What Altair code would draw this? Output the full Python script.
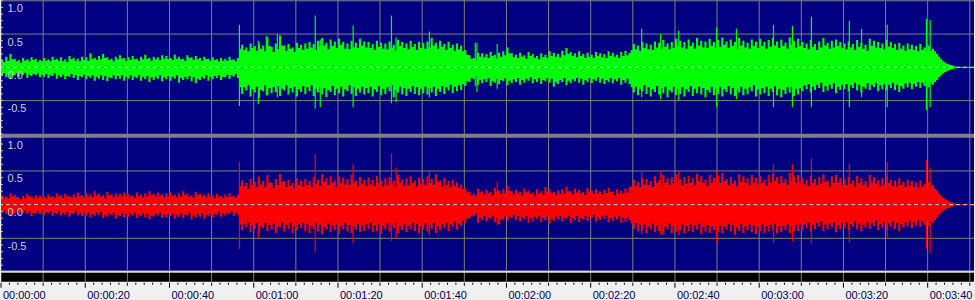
import altair as alt
import pandas as pd

# ---------------- data: peak envelope, hundredths of full scale ----------------
# *_A : value for the first half of each second (t = 0 .. 230 s)
# *_B : value for the second half of each second (t + 0.5)
G_HI_A = [12, 16, 20, 13, 11, 14, 12, 15, 13, 11,
          14, 12, 16, 13, 15, 12, 17, 14, 13, 16,
          15, 21, 14, 17, 20, 15, 13, 16, 18, 14,
          15, 17, 13, 16, 19, 14, 16, 15, 18, 17,
          14, 19, 16, 13, 18, 15, 17, 14, 16, 13,
          15, 12, 14, 13, 16, 12, 14,
          34, 30, 36, 32, 35, 33, 45, 31, 36, 48, 33, 35, 30, 37, 34,
          36, 38, 35, 40, 44, 37, 42, 39, 43, 38, 36, 40, 37, 43, 39,
          38, 35, 40, 37, 36, 39, 34, 41, 38, 36, 40, 35, 38, 37,
          39, 44, 37, 40, 35, 38, 34, 36, 33, 26, 18, 14,
          22, 21, 20, 23, 19, 22, 24, 30, 21, 19, 22, 18, 23, 20, 17, 21, 19, 24, 22, 20,
          25, 29, 23, 21, 24, 20, 22, 19, 23, 21, 20, 24, 22, 19, 23, 25, 22,
          35, 33, 38, 36, 34, 39, 37, 41, 36, 38, 43, 40, 38, 42, 37, 44, 40, 39, 43, 38,
          41, 45, 39, 42, 38, 44, 40, 37, 42, 39, 43, 38, 41, 44, 39, 42, 37, 45, 40, 43,
          38, 36, 41, 35, 39, 44, 37, 40, 42, 38, 36, 39, 35, 41, 37, 34, 43, 40, 38, 36,
          41, 38, 35, 37, 33, 36, 34, 32, 35, 30, 33,
          28, 20, 12, 7, 4, 2,
          1, 1, 1, 1]
G_HI_B = [8, 10, 12, 9, 7, 10, 9, 11, 8, 9,
          10, 9, 11, 10, 9, 8, 12, 10, 9, 11,
          10, 13, 11, 12, 14, 11, 9, 12, 13, 10,
          11, 12, 10, 12, 13, 10, 12, 11, 13, 12,
          11, 13, 12, 10, 14, 11, 12, 10, 12, 10,
          11, 9, 10, 10, 11, 9, 28,
          26, 24, 29, 25, 28, 24, 32, 23, 27, 33, 25, 28, 23, 29, 26,
          28, 30, 26, 31, 33, 27, 32, 29, 34, 28, 27, 30, 29, 33, 30,
          29, 26, 31, 28, 27, 30, 25, 32, 29, 27, 31, 26, 29, 28,
          30, 33, 28, 31, 26, 29, 25, 27, 24, 19, 13, 11,
          16, 15, 14, 17, 13, 16, 18, 21, 15, 14, 16, 13, 17, 14, 12, 15, 14, 17, 16, 15,
          18, 20, 17, 15, 17, 14, 16, 14, 17, 15, 14, 17, 16, 14, 17, 18, 26,
          27, 25, 29, 27, 26, 30, 28, 31, 27, 29, 32, 30, 28, 32, 28, 33, 30, 29, 32, 29,
          31, 34, 29, 32, 28, 33, 30, 28, 32, 29, 32, 28, 31, 33, 29, 32, 28, 34, 30, 32,
          29, 27, 31, 26, 30, 33, 28, 30, 32, 29, 27, 30, 26, 31, 28, 25, 32, 30, 29, 27,
          31, 29, 26, 28, 25, 27, 26, 24, 26, 23, 25,
          24, 16, 9, 5, 3, 1,
          1, 1, 1, 1]
G_LO_A = [-13, -15, -17, -12, -14, -11, -16, -13, -12, -15,
          -14, -16, -13, -17, -15, -18, -14, -16, -19, -15,
          -18, -16, -20, -17, -19, -21, -16, -18, -17, -20,
          -17, -19, -16, -20, -18, -22, -19, -17, -21, -18,
          -20, -17, -23, -19, -18, -21, -24, -19, -17, -20,
          -18, -16, -19, -15, -17, -14, -16,
          -40, -35, -44, -38, -46, -36, -42, -39, -37, -43, -35, -41, -38, -44, -37,
          -40, -36, -43, -38, -41, -45, -37, -42, -39, -44, -36, -40, -43, -38, -41,
          -39, -44, -37, -42, -40, -36, -45, -38, -41, -43, -37, -40, -42, -39,
          -41, -38, -43, -37, -40, -35, -39, -36, -34, -28, -22, -18,
          -26, -24, -22, -28, -23, -25, -21, -27, -24, -22, -26, -23, -20, -24, -22, -25, -21, -23, -29, -25,
          -22, -27, -24, -21, -23, -26, -22, -24, -20, -23, -25, -22, -24, -21, -26, -23, -25,
          -38, -42, -36, -40, -44, -37, -41, -39, -45, -38, -42, -40, -44, -37, -43, -39, -41, -45, -38, -42,
          -40, -44, -37, -41, -43, -38, -42, -40, -36, -44, -41, -39, -43, -37, -42, -45, -40, -38, -43, -41,
          -36, -33, -38, -34, -31, -37, -35, -32, -39, -34, -33, -36, -31, -35, -38, -32, -34, -30, -36, -33,
          -35, -31, -34, -37, -32, -30, -33, -29, -31, -28, -30,
          -26, -19, -12, -7, -4, -2,
          -1, -1, -1, -1]
G_LO_B = [-9, -11, -12, -9, -10, -8, -11, -10, -9, -11,
          -10, -12, -9, -12, -11, -13, -10, -12, -13, -11,
          -13, -12, -14, -12, -13, -15, -12, -13, -12, -14,
          -12, -14, -12, -14, -13, -15, -14, -12, -15, -13,
          -14, -12, -16, -14, -13, -15, -17, -14, -12, -14,
          -13, -12, -14, -11, -12, -10, -30,
          -30, -27, -33, -29, -34, -27, -31, -29, -28, -32, -27, -31, -29, -33, -28,
          -30, -27, -32, -29, -31, -34, -28, -32, -29, -33, -27, -30, -32, -29, -31,
          -29, -33, -28, -32, -30, -27, -34, -29, -31, -32, -28, -30, -32, -29,
          -31, -29, -32, -28, -30, -26, -29, -27, -25, -21, -16, -13,
          -19, -18, -16, -21, -17, -19, -16, -20, -18, -16, -19, -17, -15, -18, -16, -19, -16, -17, -22, -19,
          -16, -20, -18, -16, -17, -19, -16, -18, -15, -17, -19, -16, -18, -16, -19, -17, -30,
          -29, -32, -27, -30, -33, -28, -31, -29, -34, -29, -32, -30, -33, -28, -32, -29, -31, -34, -29, -32,
          -30, -33, -28, -31, -32, -29, -32, -30, -27, -33, -31, -29, -32, -28, -32, -34, -30, -29, -32, -31,
          -27, -25, -29, -26, -23, -28, -26, -24, -29, -26, -25, -27, -23, -26, -29, -24, -26, -23, -27, -25,
          -26, -23, -26, -28, -24, -23, -25, -22, -23, -21, -23,
          -22, -15, -9, -5, -3, -1,
          -1, -1, -1, -1]
R_HI_A = [14, 12, 17, 15, 11, 13, 16, 12, 14, 13,
          12, 15, 13, 17, 14, 16, 13, 15, 18, 14,
          17, 15, 20, 16, 14, 19, 15, 17, 16, 18,
          16, 14, 18, 15, 17, 20, 16, 18, 15, 17,
          18, 15, 17, 20, 16, 14, 19, 16, 15, 17,
          14, 16, 13, 15, 17, 13, 15,
          36, 32, 38, 34, 40, 35, 44, 33, 38, 46, 35, 37, 32, 39, 36,
          38, 35, 41, 37, 45, 39, 43, 36, 42, 40, 38, 44, 36, 41, 37,
          40, 37, 43, 36, 39, 41, 35, 44, 37, 39, 42, 36, 40, 38,
          42, 38, 45, 36, 39, 35, 37, 33, 30, 24, 19, 16,
          24, 20, 22, 19, 25, 21, 23, 28, 20, 22, 19, 24, 21, 18, 23, 20, 26, 22, 19, 21,
          23, 27, 20, 24, 22, 19, 25, 21, 23, 20, 22, 25, 19, 23, 21, 24, 26,
          37, 34, 40, 38, 35, 42, 36, 44, 39, 41, 45, 38, 41, 43, 39, 46, 42, 37, 44, 40,
          43, 47, 38, 41, 36, 45, 42, 39, 44, 40, 42, 37, 44, 46, 41, 43, 38, 47, 42, 44,
          40, 37, 43, 38, 41, 45, 36, 42, 44, 39, 38, 41, 36, 43, 39, 35, 44, 41, 37, 39,
          42, 37, 36, 39, 34, 37, 35, 33, 36, 31, 34,
          29, 21, 13, 8, 4, 2,
          1, 1, 1, 1]
R_HI_B = [10, 9, 12, 11, 8, 10, 12, 9, 10, 10,
          9, 11, 10, 12, 10, 12, 10, 11, 13, 10,
          12, 11, 14, 12, 10, 14, 11, 12, 12, 13,
          12, 10, 13, 11, 12, 14, 12, 13, 11, 12,
          13, 11, 12, 14, 12, 10, 14, 12, 11, 12,
          10, 12, 10, 11, 12, 10, 28,
          27, 24, 29, 26, 30, 26, 33, 25, 29, 34, 26, 28, 24, 29, 27,
          29, 26, 31, 28, 34, 29, 32, 27, 32, 30, 29, 33, 27, 31, 28,
          30, 28, 32, 27, 29, 31, 26, 33, 28, 29, 32, 27, 30, 29,
          32, 29, 34, 27, 29, 26, 28, 25, 23, 18, 14, 12,
          18, 15, 17, 14, 19, 16, 17, 21, 15, 17, 14, 18, 16, 13, 17, 15, 20, 17, 14, 16,
          17, 20, 15, 18, 17, 14, 19, 16, 17, 15, 17, 19, 14, 17, 16, 18, 27,
          28, 26, 30, 29, 26, 32, 27, 33, 29, 31, 34, 29, 31, 32, 29, 35, 32, 28, 33, 30,
          32, 35, 29, 31, 27, 34, 32, 29, 33, 30, 32, 28, 33, 35, 31, 32, 29, 35, 32, 33,
          30, 28, 32, 29, 31, 34, 27, 32, 33, 29, 29, 31, 27, 32, 29, 26, 33, 31, 28, 29,
          32, 28, 27, 29, 26, 28, 26, 25, 27, 23, 26,
          24, 16, 10, 6, 3, 1,
          1, 1, 1, 1]
R_LO_A = [-12, -14, -16, -13, -15, -12, -14, -17, -13, -14,
          -15, -13, -17, -14, -16, -15, -18, -13, -16, -17,
          -16, -19, -17, -15, -20, -18, -16, -21, -17, -19,
          -18, -16, -20, -17, -19, -22, -18, -16, -20, -19,
          -17, -21, -18, -20, -16, -22, -19, -18, -21, -17,
          -19, -15, -18, -16, -14, -17, -15,
          -38, -34, -41, -36, -43, -35, -39, -37, -42, -34, -40, -36, -43, -38, -35,
          -39, -42, -36, -40, -44, -37, -41, -38, -43, -36, -40, -42, -37, -41, -39,
          -36, -41, -39, -43, -37, -40, -35, -42, -38, -41, -36, -39, -43, -37,
          -40, -36, -42, -38, -35, -39, -33, -37, -32, -27, -21, -17,
          -27, -23, -25, -21, -26, -29, -22, -24, -20, -23, -25, -22, -27, -24, -21, -26, -23, -28, -24, -22,
          -25, -21, -27, -23, -26, -22, -24, -20, -25, -23, -21, -26, -24, -22, -27, -25, -23,
          -36, -40, -38, -43, -37, -41, -39, -44, -37, -42, -40, -38, -43, -39, -41, -37, -44, -40, -42, -38,
          -41, -43, -37, -40, -45, -39, -42, -38, -41, -44, -39, -42, -40, -37, -43, -41, -38, -42, -40, -39,
          -38, -35, -40, -36, -33, -39, -37, -34, -41, -36, -35, -38, -33, -37, -40, -34, -36, -32, -38, -35,
          -37, -33, -36, -39, -34, -32, -35, -31, -33, -30, -32,
          -27, -20, -12, -7, -4, -2,
          -1, -1, -1, -1]
R_LO_B = [-9, -10, -12, -10, -11, -9, -10, -12, -10, -10,
          -11, -10, -12, -10, -12, -11, -13, -10, -12, -12,
          -12, -14, -12, -11, -15, -13, -12, -15, -13, -14,
          -13, -12, -15, -13, -14, -16, -13, -12, -15, -14,
          -13, -15, -13, -15, -12, -16, -14, -13, -15, -13,
          -14, -11, -13, -12, -10, -12, -29,
          -29, -26, -31, -27, -32, -27, -30, -28, -32, -26, -30, -27, -32, -29, -27,
          -29, -32, -27, -30, -33, -28, -31, -29, -32, -27, -30, -32, -28, -31, -29,
          -27, -31, -29, -32, -28, -30, -27, -32, -29, -31, -27, -29, -32, -28,
          -30, -27, -32, -29, -27, -29, -25, -28, -24, -20, -16, -13,
          -20, -17, -19, -16, -20, -22, -17, -18, -15, -17, -19, -17, -20, -18, -16, -20, -17, -21, -18, -17,
          -19, -16, -20, -17, -20, -17, -18, -15, -19, -17, -16, -20, -18, -17, -20, -19, -28,
          -27, -30, -29, -32, -28, -31, -29, -33, -28, -32, -30, -29, -32, -29, -31, -28, -33, -30, -32, -29,
          -31, -32, -28, -30, -34, -29, -32, -29, -31, -33, -29, -32, -30, -28, -32, -31, -29, -32, -30, -29,
          -29, -26, -30, -27, -25, -29, -28, -26, -31, -27, -26, -29, -25, -28, -30, -26, -27, -24, -29, -26,
          -28, -25, -27, -29, -26, -24, -26, -23, -25, -23, -24,
          -23, -15, -9, -5, -3, -1,
          -1, -1, -1, -1]

# isolated transient peaks (time in s, value in full scale)
G_SPIKE_T = [56.6, 61.1, 63.0, 65.6, 74.6, 75.8, 83.6, 92.7, 93.8, 101.7, 112.6, 113.0, 117.8,
             152.1, 156.6, 160.9, 169.9, 174.6, 183.4, 187.9, 192.4, 201.4, 204.3, 210.4, 219.7, 220.6]
G_SPIKE_HI = [0.64, 0.40, 0.47, 0.50, 0.78, 0.42, 0.63, 0.78, 0.45, 0.54, 0.37, 0.37, 0.35,
              0.58, 0.50, 0.55, 0.60, 0.58, 0.64, 0.62, 0.76, 0.70, 0.58, 0.64, 0.73, 0.71]
G_SPIKE_LO = [-0.58, -0.55, -0.42, -0.45, -0.62, -0.60, -0.60, -0.54, -0.52, -0.45, -0.28, -0.37, -0.32,
              -0.45, -0.48, -0.50, -0.60, -0.48, -0.60, -0.60, -0.60, -0.60, -0.45, -0.60, -0.64, -0.60]
R_SPIKE_T = [56.6, 61.1, 74.6, 83.6, 92.7, 93.8, 101.7, 117.8, 152.1, 156.6, 160.9, 169.9,
             183.4, 187.9, 192.4, 201.4, 210.4, 219.7, 220.6]
R_SPIKE_HI = [0.64, 0.42, 0.75, 0.60, 0.76, 0.55, 0.50, 0.34, 0.48, 0.48, 0.50, 0.50,
              0.60, 0.60, 0.69, 0.61, 0.63, 0.66, 0.55]
R_SPIKE_LO = [-0.66, -0.50, -0.70, -0.57, -0.54, -0.50, -0.45, -0.30, -0.44, -0.45, -0.46, -0.57,
              -0.57, -0.54, -0.58, -0.56, -0.50, -0.66, -0.72]

# axis ticks / labels
Y_LABELS = [1.0, 0.5, 0.0, -0.5]
Y_GRID = [1.0, 0.5, -0.5]
Y_MINOR = [1.0, 0.9, 0.8, 0.7, 0.6, 0.5, 0.4, 0.3, 0.2, 0.1, 0.0,
           -0.1, -0.2, -0.3, -0.4, -0.5, -0.6, -0.7, -0.8, -0.9, -1.0]
X_GRID = list(range(0, 240, 10))
X_MAJOR = list(range(0, 240, 20))
X_MID = list(range(10, 240, 20))
X_MINOR = [t for t in range(0, 232, 2) if t % 10 != 0]

# ---------------- styling ----------------
NAVY = "#000080"
GRID = "#808080"
FONT = "Liberation Sans"
W = 975
X_DOMAIN = [0, 231]
xs = alt.Scale(domain=X_DOMAIN, nice=False, zero=False)

Y_AXIS = alt.Axis(
    values=Y_LABELS,
    labelExpr="datum.value < 0 ? '-' + format(-datum.value, '.1f') : format(datum.value, '.1f')",
    ticks=False, tickSize=0, domain=False, grid=False, zindex=1,
    labelAlign="left", labelBaseline="top", labelPadding=-6, labelOffset=2,
    labelColor="#d0d0d0", labelFont=FONT, labelFontSize=11, title=None)

X_AXIS = alt.Axis(
    values=X_MAJOR, ticks=False, tickSize=0, domain=False, grid=False,
    labelAlign="left", labelBaseline="top", labelPadding=1.5, labelOffset=1.5,
    labelFlush=False, labelOverlap=False, labelColor="#000058", labelFont=FONT,
    labelFontSize=11, title=None,
    labelExpr="'00:' + (datum.value < 600 ? '0' : '') + floor(datum.value / 60) + ':' + "
              "(datum.value % 60 < 10 ? '0' : '') + (datum.value % 60)")


def env_df(a, b):
    ts, vs = [], []
    for i, v in enumerate(a):
        ts.append(i)
        vs.append(v / 100)
        if i < len(b):
            ts.append(i + 0.5)
            vs.append(b[i] / 100)
    ts.append(len(a))
    vs.append(vs[-1])
    return pd.DataFrame({"t": ts, "v": vs})


def channel(hi_a, hi_b, lo_a, lo_b, sp_t, sp_hi, sp_lo, color, height, ydom, band=False):
    ys = alt.Scale(domain=ydom, nice=False, zero=False)
    X = lambda f: alt.X(f, scale=xs, axis=None)
    Y = lambda f: alt.Y(f, scale=ys, axis=Y_AXIS)
    vgrid = alt.Chart(pd.DataFrame({"t": X_GRID})).mark_rule(
        color=GRID, strokeWidth=1, clip=True).encode(x=X("t:Q"))
    hgrid = alt.Chart(pd.DataFrame({"v": Y_GRID})).mark_rule(
        color=GRID, strokeWidth=1, clip=True).encode(y=Y("v:Q"))
    up = alt.Chart(env_df(hi_a, hi_b)).mark_area(
        color=color, interpolate="step-after", clip=True, opacity=1).encode(
        x=X("t:Q"), y=Y("v:Q"), y2=alt.datum(0))
    dn = alt.Chart(env_df(lo_a, lo_b)).mark_area(
        color=color, interpolate="step-after", clip=True, opacity=1).encode(
        x=X("t:Q"), y=Y("v:Q"), y2=alt.datum(0))
    spikes = alt.Chart(pd.DataFrame({"t": sp_t, "hi": sp_hi, "lo": sp_lo})).mark_rule(
        color=color, strokeWidth=1.2, clip=True).encode(
        x=X("t:Q"), y=Y("lo:Q"), y2="hi:Q")
    center = alt.Chart(pd.DataFrame({"v": [0.0]})).mark_rule(
        color="#d0d0d0", strokeWidth=1, strokeDash=[4, 3], clip=True).encode(y=Y("v:Q"))
    minor = alt.Chart(pd.DataFrame({"v": Y_MINOR})).mark_rule(
        color="#c8c8c8", strokeWidth=1, clip=True).encode(
        y=Y("v:Q"), x=alt.value(0), x2=alt.value(2))
    layers = [vgrid, hgrid, up, dn, spikes, center, minor]
    if band:
        sep = alt.Chart(pd.DataFrame({"a": [-1.0], "b": [ydom[0]]})).mark_rect(
            color=GRID, clip=True).encode(y=Y("a:Q"), y2="b:Q")
        layers.append(sep)
    return alt.layer(*layers).properties(
        width=W, height=height,
        view=alt.ViewBackground(fill=NAVY, strokeWidth=0))


top = channel(G_HI_A, G_HI_B, G_LO_A, G_LO_B, G_SPIKE_T, G_SPIKE_HI, G_SPIKE_LO,
              "#00ff00", 137, [-1.0475, 1.0075], band=True)
bottom = channel(R_HI_A, R_HI_B, R_LO_A, R_LO_B, R_SPIKE_T, R_SPIKE_HI, R_SPIKE_LO,
                 "#ff0000", 134, [-0.9815, 1.0037])

# black time strip with the grid continuing through it
strip_grid = alt.Chart(pd.DataFrame({"t": X_GRID})).mark_rule(
    color=GRID, strokeWidth=1, clip=True).encode(x=alt.X("t:Q", scale=xs, axis=None))
strip_top = alt.Chart(pd.DataFrame({"t": [0]})).mark_rule(
    color="#dcdcdc", strokeWidth=2).encode(y=alt.value(1))
strip = alt.layer(strip_grid, strip_top).properties(
    width=W, height=11, view=alt.ViewBackground(fill="#000000", strokeWidth=0))

# ruler ticks + time labels
XR = lambda f: alt.X(f, scale=xs, axis=X_AXIS)
tick_minor = alt.Chart(pd.DataFrame({"t": X_MINOR})).mark_rule(
    color="#000000", strokeWidth=1).encode(x=XR("t:Q"), y=alt.value(0), y2=alt.value(2))
tick_mid = alt.Chart(pd.DataFrame({"t": X_MID})).mark_rule(
    color="#000000", strokeWidth=1).encode(x=XR("t:Q"), y=alt.value(0), y2=alt.value(3))
tick_major = alt.Chart(pd.DataFrame({"t": X_MAJOR})).mark_rule(
    color="#000000", strokeWidth=1).encode(x=XR("t:Q"), y=alt.value(0), y2=alt.value(5))
ruler = alt.layer(tick_minor, tick_mid, tick_major).properties(
    width=W, height=5, view=alt.ViewBackground(strokeWidth=0))

chart = alt.vconcat(top, bottom, strip, ruler, spacing=0).properties(
    padding=0, background="#f0f0f0").configure_view(strokeWidth=0)

chart.save("out.html", embed_options={"renderer": "svg", "actions": False})
